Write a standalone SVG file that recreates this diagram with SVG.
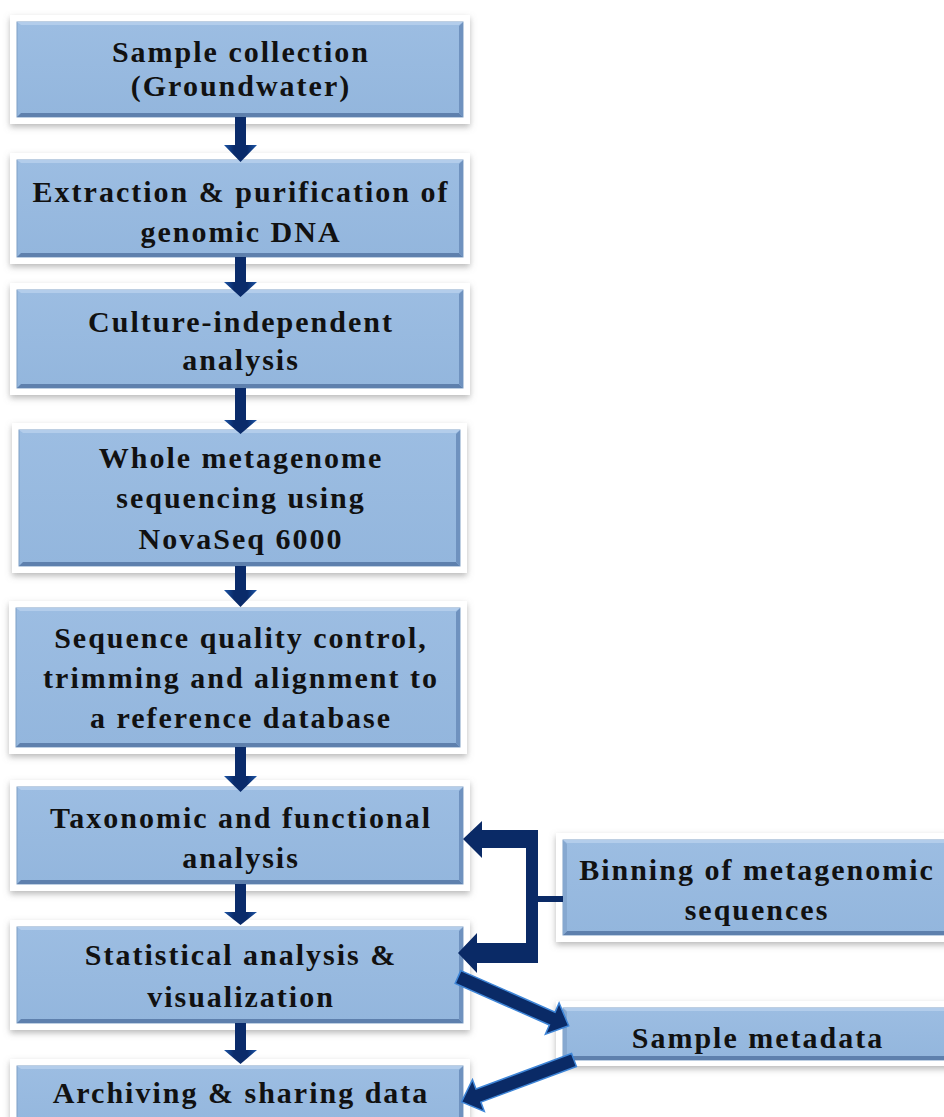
<svg xmlns="http://www.w3.org/2000/svg" width="944" height="1117" viewBox="0 0 944 1117">
<defs>
<filter id="sh" x="-10%" y="-20%" width="120%" height="150%">
<feDropShadow dx="0" dy="3" stdDeviation="3" flood-color="#808080" flood-opacity="0.55"/>
</filter>
<linearGradient id="fillg" x1="0" y1="0" x2="0" y2="1">
<stop offset="0" stop-color="#9cbde2"/>
<stop offset="1" stop-color="#93b6dd"/>
</linearGradient>
<linearGradient id="arrg" x1="0" y1="0" x2="1" y2="0">
<stop offset="0" stop-color="#1d56a8"/>
<stop offset="0.3" stop-color="#0a2b6a"/>
<stop offset="0.7" stop-color="#0a2b6a"/>
<stop offset="1" stop-color="#1d56a8"/>
</linearGradient>
<style>
.frame{fill:#ffffff;filter:url(#sh)}
.box{fill:url(#fillg);stroke:#7f9fc6;stroke-width:1}
.bt{fill:#b3cdeb}
.bb{fill:#5e80ad}
.bl{fill:#86a8d0}
.br{fill:#6f92bf}
.t{font-family:"Liberation Serif","Times New Roman",serif;font-weight:bold;font-size:30px;letter-spacing:2px;fill:#111111;text-anchor:middle}
.va{fill:url(#arrg)}
.con{fill:#0a2a66}
.diag{fill:#0a2a66;stroke:#3f86d8;stroke-width:1.5;stroke-linejoin:miter}
</style>
</defs>
<rect width="944" height="1117" fill="#ffffff"/>

<g id="n1">
<rect class="frame" x="10" y="15" width="460" height="109"/>
<rect class="box" x="17" y="22" width="446" height="95"/>
<path class="bb" d="M17,117 L463,117 L459,113 L21,113 Z"/>
<path class="br" d="M463,22 L463,117 L459,113 L459,26 Z"/>
<path class="bt" d="M17,22 L463,22 L459,25 L21,25 Z"/>
<text class="t" x="241" y="62">Sample collection</text>
<text class="t" x="241" y="96">(Groundwater)</text>
</g>

<g id="n2">
<rect class="frame" x="10" y="153" width="460" height="111"/>
<rect class="box" x="17" y="160" width="446" height="97"/>
<path class="bb" d="M17,257 L463,257 L459,253 L21,253 Z"/>
<path class="br" d="M463,160 L463,257 L459,253 L459,164 Z"/>
<path class="bt" d="M17,160 L463,160 L459,163 L21,163 Z"/>
<text class="t" x="241" y="202">Extraction &amp; purification of</text>
<text class="t" x="241" y="242">genomic DNA</text>
</g>

<g id="n3">
<rect class="frame" x="10" y="283" width="460" height="112"/>
<rect class="box" x="17" y="290" width="446" height="98"/>
<path class="bb" d="M17,388 L463,388 L459,384 L21,384 Z"/>
<path class="br" d="M463,290 L463,388 L459,384 L459,294 Z"/>
<path class="bt" d="M17,290 L463,290 L459,293 L21,293 Z"/>
<text class="t" x="241" y="332">Culture-independent</text>
<text class="t" x="241" y="370">analysis</text>
</g>

<g id="n4">
<rect class="frame" x="12" y="423" width="455" height="150"/>
<rect class="box" x="19" y="430" width="441" height="136"/>
<path class="bb" d="M19,566 L460,566 L456,562 L23,562 Z"/>
<path class="br" d="M460,430 L460,566 L456,562 L456,434 Z"/>
<path class="bt" d="M19,430 L460,430 L456,433 L23,433 Z"/>
<text class="t" x="241" y="468">Whole metagenome</text>
<text class="t" x="241" y="508">sequencing using</text>
<text class="t" x="241" y="549">NovaSeq 6000</text>
</g>

<g id="n5">
<rect class="frame" x="9" y="601" width="458" height="153"/>
<rect class="box" x="16" y="608" width="444" height="139"/>
<path class="bb" d="M16,747 L460,747 L456,743 L20,743 Z"/>
<path class="br" d="M460,608 L460,747 L456,743 L456,612 Z"/>
<path class="bt" d="M16,608 L460,608 L456,611 L20,611 Z"/>
<text class="t" x="241" y="648">Sequence quality control,</text>
<text class="t" x="241" y="688">trimming and alignment to</text>
<text class="t" x="241" y="728">a reference database</text>
</g>

<g id="n6">
<rect class="frame" x="10" y="780" width="460" height="111"/>
<rect class="box" x="17" y="787" width="446" height="97"/>
<path class="bb" d="M17,884 L463,884 L459,880 L21,880 Z"/>
<path class="br" d="M463,787 L463,884 L459,880 L459,791 Z"/>
<path class="bt" d="M17,787 L463,787 L459,790 L21,790 Z"/>
<text class="t" x="241" y="828">Taxonomic and functional</text>
<text class="t" x="241" y="868">analysis</text>
</g>

<g id="n7">
<rect class="frame" x="10" y="920" width="460" height="110"/>
<rect class="box" x="17" y="927" width="446" height="96"/>
<path class="bb" d="M17,1023 L463,1023 L459,1019 L21,1019 Z"/>
<path class="br" d="M463,927 L463,1023 L459,1019 L459,931 Z"/>
<path class="bt" d="M17,927 L463,927 L459,930 L21,930 Z"/>
<text class="t" x="241" y="965">Statistical analysis &amp;</text>
<text class="t" x="241" y="1007">visualization</text>
</g>

<g id="n8">
<rect class="frame" x="10" y="1059" width="460" height="80"/>
<rect class="box" x="17" y="1066" width="446" height="70"/>
<path class="br" d="M463,1066 L463,1136 L459,1136 L459,1070 Z"/>
<path class="bt" d="M17,1066 L463,1066 L459,1069 L21,1069 Z"/>
<text class="t" x="241" y="1103">Archiving &amp; sharing data</text>
</g>

<g id="n9">
<rect class="frame" x="556" y="833" width="410" height="109"/>
<rect class="box" x="563" y="840" width="400" height="95"/>
<path class="bb" d="M563,935 L963,935 L963,931 L567,931 Z"/>
<path class="bl" d="M563,840 L563,935 L567,931 L567,844 Z"/>
<path class="bt" d="M563,840 L963,840 L963,843 L567,843 Z"/>
<text class="t" x="757" y="880">Binning of metagenomic</text>
<text class="t" x="757" y="920">sequences</text>
</g>

<g id="n10">
<rect class="frame" x="556" y="1001" width="410" height="65"/>
<rect class="box" x="563" y="1008" width="400" height="52"/>
<path class="bb" d="M563,1060 L963,1060 L963,1056 L567,1056 Z"/>
<path class="bl" d="M563,1008 L563,1060 L567,1056 L567,1012 Z"/>
<path class="bt" d="M563,1008 L963,1008 L963,1011 L567,1011 Z"/>
<text class="t" x="758" y="1048">Sample metadata</text>
</g>

<g id="connectors">
<polygon class="va" points="235,117 246,117 246,145 257,145 240.5,162 224,145 235,145"/>
<polygon class="va" points="235,257 246,257 246,282 257,282 240.5,297 224,282 235,282"/>
<polygon class="va" points="235,388 246,388 246,420 257,420 240.5,434 224,420 235,420"/>
<polygon class="va" points="235,566 246,566 246,590 257,590 240.5,607 224,590 235,590"/>
<polygon class="va" points="235,747 246,747 246,776 257,776 240.5,792 224,776 235,776"/>
<polygon class="va" points="235,884 246,884 246,912 257,912 240.5,925 224,912 235,912"/>
<polygon class="va" points="235,1023 246,1023 246,1050 257,1050 240.5,1064 224,1050 235,1050"/>
<polygon class="con" points="463,839 482,821 482,830 538,830 538,963 477,963 477,973 458,953 477,933 477,943 526,943 526,848 482,848 482,858"/>
<rect class="con" x="538" y="896" width="25" height="6"/>
<polygon class="diag" transform="translate(458,977) rotate(23.8)" points="0,-7 103,-7 103,-17 121,0 103,17 103,7 0,7"/>
<polygon class="diag" transform="translate(574,1060) rotate(159.6)" points="0,-7 102,-7 102,-17 120,0 102,17 102,7 0,7"/>
</g>
</svg>
